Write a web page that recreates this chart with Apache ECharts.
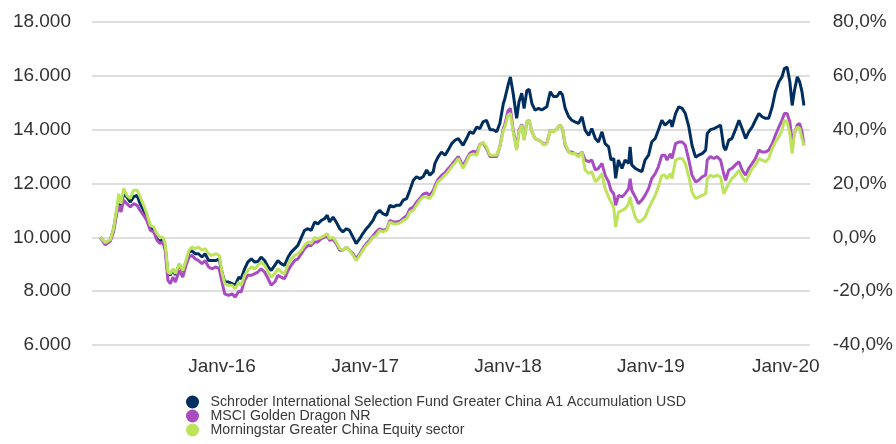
<!DOCTYPE html>
<html>
<head>
<meta charset="utf-8">
<script src="https://cdn.jsdelivr.net/npm/echarts@6/dist/echarts.min.js"></script>
<style>
html,body{margin:0;padding:0;background:#fff;}
#chart{width:896px;height:444px;}
</style>
</head>
<body>
<div id="chart"></div>
<script>
var seriesNames = [
  'Schroder International Selection Fund Greater China A1 Accumulation USD',
  'MSCI Golden Dragon NR',
  'Morningstar Greater China Equity sector'
];
var seriesColors = ['#002f5f', '#a84cc2', '#bde35c'];

var dates = [
'2015-02-24','2015-03-09','2015-03-22','2015-03-30','2015-04-08','2015-04-12','2015-04-18','2015-04-25','2015-05-03','2015-05-12',
'2015-05-20','2015-05-29','2015-06-06','2015-06-15','2015-06-23','2015-07-02','2015-07-11','2015-07-19','2015-07-27','2015-08-03',
'2015-08-09','2015-08-16','2015-08-22','2015-08-29','2015-09-04','2015-09-14','2015-09-23','2015-10-01','2015-10-09','2015-10-16',
'2015-10-25','2015-11-02','2015-11-11','2015-11-19','2015-11-28','2015-12-06','2015-12-17','2015-12-25','2016-01-01','2016-01-08',
'2016-01-18','2016-01-27','2016-02-04','2016-02-13','2016-02-19','2016-02-28','2016-03-07','2016-03-16','2016-03-25','2016-04-02',
'2016-04-10','2016-04-19','2016-04-28','2016-05-06','2016-05-15','2016-05-23','2016-05-31','2016-06-09','2016-06-18','2016-06-26',
'2016-07-05','2016-07-13','2016-07-22','2016-07-30','2016-08-08','2016-08-16','2016-08-25','2016-09-02','2016-09-11','2016-09-19',
'2016-09-26','2016-10-02','2016-10-11','2016-10-19','2016-10-28','2016-11-05','2016-11-14','2016-11-22','2016-12-01','2016-12-09',
'2016-12-18','2016-12-26','2017-01-04','2017-01-12','2017-01-21','2017-01-29','2017-02-07','2017-02-15','2017-02-25','2017-03-05',
'2017-03-14','2017-03-22','2017-03-31','2017-04-08','2017-04-17','2017-04-25','2017-05-04','2017-05-12','2017-05-21','2017-05-29',
'2017-06-07','2017-06-15','2017-06-24','2017-06-28','2017-07-06','2017-07-15','2017-07-24','2017-08-01','2017-08-10','2017-08-18',
'2017-08-27','2017-08-31','2017-09-08','2017-09-17','2017-09-25','2017-10-04','2017-10-13','2017-10-21','2017-10-29','2017-11-07',
'2017-11-16','2017-11-24','2017-12-03','2017-12-11','2017-12-20','2017-12-24','2018-01-01','2018-01-07','2018-01-14','2018-01-23',
'2018-01-29','2018-02-05','2018-02-11','2018-02-18','2018-02-24','2018-03-03','2018-03-11','2018-03-20','2018-03-28','2018-04-02',
'2018-04-10','2018-04-19','2018-04-27','2018-05-06','2018-05-14','2018-05-20','2018-05-27','2018-06-05','2018-06-13','2018-06-21',
'2018-06-30','2018-07-09','2018-07-17','2018-07-26','2018-08-03','2018-08-12','2018-08-20','2018-08-29','2018-09-06','2018-09-15',
'2018-09-21','2018-09-28','2018-10-03','2018-10-10','2018-10-19','2018-10-27','2018-11-05','2018-11-09','2018-11-13','2018-11-22',
'2018-11-30','2018-12-09','2018-12-17','2018-12-26','2019-01-03','2019-01-12','2019-01-20','2019-01-29','2019-02-06','2019-02-11',
'2019-02-20','2019-02-24','2019-03-05','2019-03-13','2019-03-22','2019-03-30','2019-04-08','2019-04-16','2019-04-25','2019-05-03',
'2019-05-12','2019-05-21','2019-05-25','2019-06-02','2019-06-11','2019-06-19','2019-06-28','2019-07-06','2019-07-11','2019-07-19',
'2019-07-27','2019-08-05','2019-08-14','2019-08-22','2019-08-31','2019-09-08','2019-09-17','2019-09-25','2019-10-04','2019-10-12',
'2019-10-21','2019-10-29','2019-11-07','2019-11-15','2019-11-24','2019-12-02','2019-12-08','2019-12-15','2019-12-22','2019-12-28',
'2020-01-03','2020-01-10','2020-01-16','2020-01-22','2020-01-27'
];

var schroder = [
10000,9780,9900,10300,11050,11400,11200,11630,11500,11310,
11500,11560,11250,11000,10750,10380,10260,9950,9830,9950,
9640,8650,8600,8800,8600,9000,8750,9080,9450,9500,
9390,9390,9270,9390,9140,9140,9140,9200,8710,8340,
8340,8280,8220,8520,8460,8830,9080,9200,9080,9100,
9270,9140,8900,8770,8960,9140,9020,8960,9270,9450,
9580,9700,10000,10260,10320,10260,10570,10500,10630,10690,
10820,10570,10750,10570,10320,10200,10320,10260,10000,9770,
9950,10140,10320,10450,10630,10880,11000,10880,10820,11190,
11130,11190,11190,11380,11440,11750,12120,12250,12180,12250,
12500,12310,12440,12740,12980,13170,13050,13240,13480,13600,
13670,13730,13420,13670,13920,13860,14100,14040,14290,14350,
14000,14000,13920,14230,14970,15160,15650,15960,15350,14420,
15040,15350,14790,15450,15500,14970,14730,14790,14730,14670,
14850,15410,15230,15230,15410,15290,14790,14480,14350,14290,
14230,14480,13980,13790,14040,13670,13540,13920,13480,13360,
12870,12930,12190,12870,12560,12870,12750,13360,12690,12560,
12500,12440,12870,13050,13540,13670,13980,14350,14170,14170,
14350,14100,14600,14850,14790,14600,14100,13420,12980,13050,
13110,13240,13860,14000,14040,14100,14170,13360,13240,13610,
13670,14000,14350,14040,13670,13920,14100,14350,14600,14480,
14420,14420,14850,15410,15780,15960,16270,16330,15780,14900,
15470,15960,15780,15410,14900
];

var msciGoldenDragon = [
10000,9720,9860,10200,10940,11190,10940,11380,11250,11130,
11250,11190,11000,10820,10630,10260,10200,9890,9770,9830,
9520,8400,8280,8520,8340,8770,8520,8960,9270,9330,
9200,9140,9020,9140,8900,8830,8900,8830,8340,7900,
7840,7900,7780,8000,7970,8400,8590,8590,8650,8710,
8830,8710,8460,8220,8340,8590,8520,8460,8770,8960,
9140,9200,9390,9580,9700,9700,9830,9830,9950,10000,
10070,9890,9920,9770,9520,9520,9640,9520,9390,9200,
9390,9580,9770,9890,10050,10200,10320,10260,10300,10630,
10570,10570,10600,10700,10800,11050,11130,11300,11450,11600,
11650,11550,11750,11900,12150,12300,12400,12550,12700,12850,
13000,12930,12650,12900,13120,13200,13150,13450,13500,13300,
13000,13000,13000,13360,14050,14200,14700,14790,14000,13300,
13980,14200,13650,14290,14350,13920,13670,13610,13540,13450,
13500,13980,13920,14040,14170,14040,13420,13170,13170,13110,
13050,13170,12870,12810,12870,12500,12560,12750,12310,12060,
11750,11620,11190,11560,11500,11620,11810,12180,11750,11500,
11250,11380,11560,11810,12180,12370,12620,13050,13050,12870,
13110,12930,13480,13540,13540,13420,12870,12310,12060,12120,
12250,12310,12870,13000,12930,13000,12870,12370,12120,12500,
12560,12690,12810,12500,12310,12560,12750,12930,13240,13170,
13170,13240,13480,13790,14100,14350,14600,14600,14290,13540,
13860,14170,14230,13920,13420
];

var morningstarSector = [
10000,9800,9920,10320,11130,11620,11250,11810,11560,11440,
11750,11750,11500,11190,10880,10450,10380,10140,10000,10000,
9770,8710,8650,8830,8650,9020,8770,9140,9520,9640,
9580,9640,9520,9580,9390,9330,9390,9330,8710,8280,
8220,8220,8090,8340,8220,8590,8770,8900,8830,8960,
9080,8960,8710,8520,8650,8830,8710,8650,9020,9200,
9330,9390,9520,9700,9830,9770,10000,9950,10000,10070,
10140,9950,10000,9830,9580,9520,9640,9520,9330,9140,
9330,9520,9700,9830,10000,10070,10260,10200,10260,10570,
10500,10500,10530,10630,10690,10940,11000,11190,11380,11500,
11500,11440,11620,11810,12060,12180,12310,12440,12620,12750,
12930,12870,12560,12810,13050,13100,13050,13420,13540,13360,
13050,13050,13050,13360,13980,14100,14540,14600,13920,13240,
13920,14170,13610,14290,14350,13920,13670,13610,13540,13420,
13480,13980,13920,14040,14170,14040,13480,13170,13110,13110,
12980,13170,12500,12370,12440,12060,12180,12370,11810,11500,
11310,11130,10380,10940,11000,11060,11250,11500,11190,10750,
10570,10630,10750,11060,11310,11560,11880,12310,12310,12180,
12370,12180,12870,12930,12930,12750,12250,11690,11440,11500,
11560,11620,12180,12310,12250,12310,12250,11620,11620,12000,
12180,12310,12500,12250,12060,12310,12560,12690,12930,12870,
12810,12930,13300,13540,13730,13980,14350,14290,13860,13110,
13860,14100,14040,13670,13420
];

var leftTicks = { min: 6000, max: 18000, interval: 2000 };
var rightTicks = { min: -40, max: 80, interval: 20 };
var xRange = { min: '2015-02-03', max: '2020-02-11' };

function pairs(vals) {
  return dates.map(function (d, i) { return [d, vals[i]]; });
}

var allValues = [schroder, msciGoldenDragon, morningstarSector];
var FONT = '"Liberation Sans", Arial, sans-serif';

var chart = echarts.init(document.getElementById('chart'), null, { renderer: 'canvas' });
chart.setOption({
  animation: false,
  backgroundColor: '#ffffff',
  textStyle: { fontFamily: FONT },
  grid: { left: 92, right: 86, top: 22, bottom: 99, containLabel: false },
  legend: {
    orient: 'vertical',
    left: 186,
    top: 395,
    height: 48,
    padding: 0,
    itemGap: 0,
    itemWidth: 14,
    itemHeight: 13,
    icon: 'circle',
    data: seriesNames,
    textStyle: { fontFamily: FONT, fontSize: 14.2, color: '#383838', lineHeight: 13.5, padding: [0, 0, 0, 6] }
  },
  xAxis: {
    type: 'time',
    min: xRange.min,
    max: xRange.max,
    minInterval: 365 * 24 * 3600 * 1000,
    axisLine: { show: false },
    axisTick: { show: false },
    splitLine: { show: false },
    axisLabel: {
      fontFamily: FONT,
      fontSize: 19,
      color: '#333333',
      margin: 12,
      showMinLabel: false,
      showMaxLabel: false,
      formatter: function (v) {
        var d = new Date(v);
        if (d.getMonth() !== 0 || d.getDate() !== 1) return '';
        var txt = 'Janv-' + String(d.getFullYear()).slice(2);
        return d.getFullYear() === 2020 ? '{last|' + txt + '}' : txt;
      },
      rich: {
        last: { fontFamily: FONT, fontSize: 19, color: '#333333', padding: [0, 16, 0, 0] }
      }
    }
  },
  yAxis: [
    {
      type: 'value',
      min: leftTicks.min,
      max: leftTicks.max,
      interval: leftTicks.interval,
      position: 'left',
      axisLine: { show: false },
      axisTick: { show: false },
      splitLine: { show: true, lineStyle: { color: '#dedede', width: 2 } },
      axisLabel: {
        fontFamily: FONT, fontSize: 19, color: '#333333', margin: 21,
        formatter: function (v) { return (v / 1000).toFixed(3); }
      }
    },
    {
      type: 'value',
      min: rightTicks.min,
      max: rightTicks.max,
      interval: rightTicks.interval,
      position: 'right',
      axisLine: { show: false },
      axisTick: { show: false },
      splitLine: { show: false },
      axisLabel: {
        fontFamily: FONT, fontSize: 19, color: '#333333', margin: 23,
        formatter: function (v) { return v.toFixed(1).replace('.', ',') + '%'; }
      }
    }
  ],
  series: seriesNames.map(function (name, i) {
    return {
      name: name,
      type: 'line',
      yAxisIndex: 0,
      showSymbol: false,
      symbol: 'none',
      smooth: false,
      color: seriesColors[i],
      lineStyle: { width: 3, color: seriesColors[i] },
      data: pairs(allValues[i]),
      z: 2 + i
    };
  })
});
</script>
</body>
</html>
